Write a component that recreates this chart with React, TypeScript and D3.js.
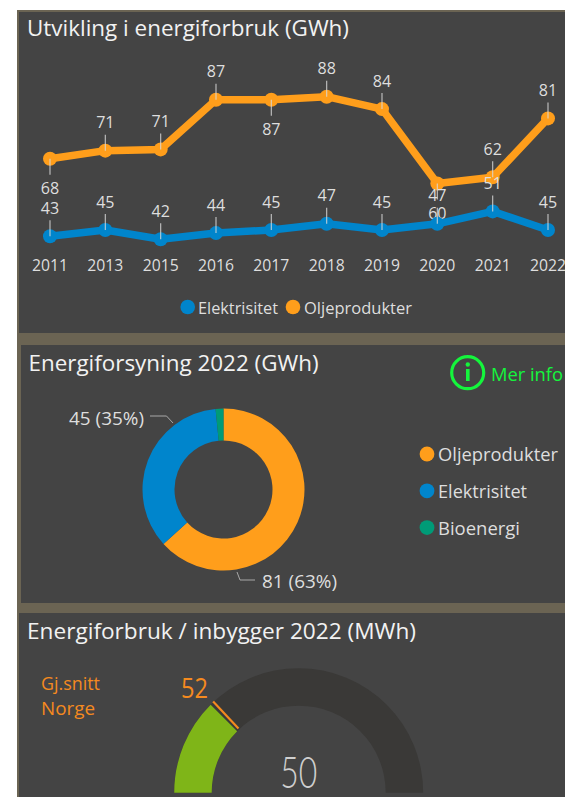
import React from "react";
import * as d3 from "d3";

const years = ["2011", "2013", "2015", "2016", "2017", "2018", "2019", "2020", "2021", "2022"];
const elektrisitet = [43, 45, 42, 44, 45, 47, 45, 47, 51, 45];
const oljeprodukter = [68, 70.6, 71, 87, 87, 88, 84, 60, 62, 81];
const oljeLabelsBelow = ["2011", "2017", "2020"];

const supplyNames = ["Oljeprodukter", "Elektrisitet", "Bioenergi"];
const supplyValues = [81, 45, 2];

const gaugeValue = 50;
const gaugeTarget = 52;
const gaugeMax = 200;

const ORANGE = "#ff9e1b";
const BLUE = "#0085cc";
const TEAL = "#009b77";
const GREEN = "#7fb518";
const BG = "#444444";
const BAND = "#6b6453";
const TEXT = "#dedede";
const TITLE = "#f2f2f2";
const FONT = "'Open Sans', sans-serif";

const x = d3.scalePoint<string>().domain(years).range([50, 548]);
const y = d3.scaleLinear().domain([45, 88]).range([230, 96.7]);

function Fit({ w, children, ...rest }: any) {
  return (
    <text textLength={w} lengthAdjust="spacingAndGlyphs" dominantBaseline="central" {...rest}>
      {children}
    </text>
  );
}

function Series({ values, color, below }: { values: number[]; color: string; below: string[] }) {
  const line = d3.line<number>().x((_, i) => x(years[i])!).y((v) => y(v));
  return (
    <g>
      <path d={line(values)!} fill="none" stroke={color} strokeWidth={7.5} strokeLinejoin="round" />
      {values.map((v, i) => (
        <circle key={i} cx={x(years[i])} cy={y(v)} r={7} fill={color} />
      ))}
      {values.map((v, i) => {
        const dir = below.includes(years[i]) ? 1 : -1;
        const px = x(years[i])!;
        const py = y(v);
        return (
          <g key={i}>
            <line x1={px} x2={px} y1={py} y2={py + dir * 16} stroke="#d8d8d8" strokeOpacity={0.8} strokeWidth={1.2} />
            <Fit x={px - 9.2} y={py + dir * 29} w={18.4} fontSize={16.5} fill={TEXT}>
              {d3.format(".0f")(v)}
            </Fit>
          </g>
        );
      })}
    </g>
  );
}

export default function App() {
  const pie = d3.pie<number>().sort(null)(supplyValues);
  const donutArc = d3.arc<d3.PieArcDatum<number>>().innerRadius(49).outerRadius(81);
  const supplyColors = [ORANGE, BLUE, TEAL];

  const angle = d3.scaleLinear().domain([0, gaugeMax]).range([-Math.PI / 2, Math.PI / 2]);
  const gaugeArc = d3.arc().innerRadius(87).outerRadius(124.5);
  const trackPath = gaugeArc({ startAngle: angle(0), endAngle: angle(gaugeMax) } as any)!;
  const valuePath = gaugeArc({ startAngle: angle(0), endAngle: angle(gaugeValue) } as any)!;
  const ta = angle(gaugeTarget);
  const gx = 298.7;
  const gy = 792.7;

  return (
    <svg
      width={565}
      height={797}
      style={{ position: "absolute", left: 0, top: 0, display: "block", background: "#fff" }}
      fontFamily={FONT}
    >
      <rect x={17} y={10} width={548} height={787} fill={BAND} />
      <rect x={19} y={12} width={546} height={321} fill={BG} />
      <rect x={21} y={345} width={544} height={258} fill={BG} />
      <rect x={19} y={613} width={546} height={184} fill={BG} />

      {/* Panel 1 */}
      <Fit x={27} y={27} w={322} fontSize={21.5} fill={TITLE}>Utvikling i energiforbruk (GWh)</Fit>
      <Series values={oljeprodukter} color={ORANGE} below={oljeLabelsBelow} />
      <Series values={elektrisitet} color={BLUE} below={[]} />
      {years.map((yr) => (
        <Fit key={yr} x={x(yr)! - 18} y={265} w={36} fontSize={16} fill={TEXT}>
          {yr}
        </Fit>
      ))}
      <circle cx={187.7} cy={307} r={7.3} fill={BLUE} />
      <Fit x={198} y={307} w={80} fontSize={16.5} fill={TEXT}>Elektrisitet</Fit>
      <circle cx={293} cy={307} r={7.3} fill={ORANGE} />
      <Fit x={304} y={307} w={108} fontSize={16.5} fill={TEXT}>Oljeprodukter</Fit>

      {/* Panel 2 */}
      <Fit x={28.5} y={362} w={290} fontSize={21.5} fill={TITLE}>Energiforsyning 2022 (GWh)</Fit>
      <circle cx={467.7} cy={372.7} r={16} fill="none" stroke="#14f53c" strokeWidth={3.2} />
      <rect x={466} y={369} width={3.6} height={12} fill="#14f53c" />
      <circle cx={467.8} cy={364.5} r={2.2} fill="#14f53c" />
      <Fit x={491} y={374} w={72} fontSize={18} fill="#14f53c">Mer info</Fit>

      <g transform="translate(223.5,489.5)">
        {pie.map((d, i) => (
          <path key={i} d={donutArc(d)!} fill={supplyColors[i]} />
        ))}
      </g>
      <path d="M150,416 H166.5 L173,423" fill="none" stroke="#a8a8a8" strokeWidth={1} />
      <path d="M237,572 L240,580 H255" fill="none" stroke="#a8a8a8" strokeWidth={1} />
      <Fit x={69} y={418} w={75} fontSize={17.5} fill={TEXT}>{`${supplyValues[1]} (35%)`}</Fit>
      <Fit x={262} y={581} w={75} fontSize={17.5} fill={TEXT}>{`${supplyValues[0]} (63%)`}</Fit>

      {supplyNames.map((n, i) => (
        <g key={n}>
          <circle cx={427} cy={454 + i * 36.8} r={7.4} fill={supplyColors[i]} />
          <Fit x={438} y={454 + i * 36.8} w={[120, 89, 82][i]} fontSize={19} fill={TEXT}>{n}</Fit>
        </g>
      ))}

      {/* Panel 3 */}
      <Fit x={27} y={630} w={389} fontSize={21.5} fill={TITLE}>Energiforbruk / inbygger 2022 (MWh)</Fit>
      <Fit x={41} y={682} w={59} fontSize={18.5} fill="#f58a1f">Gj.snitt</Fit>
      <Fit x={41} y={707} w={54} fontSize={18.5} fill="#f58a1f">Norge</Fit>
      <g transform={`translate(${gx},${gy})`}>
        <path d={trackPath} fill="#3a3937" />
        <path d={valuePath} fill={GREEN} />
        <line
          x1={88 * Math.sin(ta)}
          y1={-88 * Math.cos(ta)}
          x2={125 * Math.sin(ta)}
          y2={-125 * Math.cos(ta)}
          stroke="#f58a1f"
          strokeWidth={2.2}
        />
      </g>
      <Fit x={181} y={687} w={27} fontSize={27} fill="#f58a1f">
        {gaugeTarget}
      </Fit>
      <Fit
        x={gx - 18.5}
        y={771.7}
        w={37}
        fontSize={43}
        fontWeight={300}
        fontFamily="Lato, sans-serif"
        fill="#cfcfcf"
      >
        {gaugeValue}
      </Fit>
    </svg>
  );
}
